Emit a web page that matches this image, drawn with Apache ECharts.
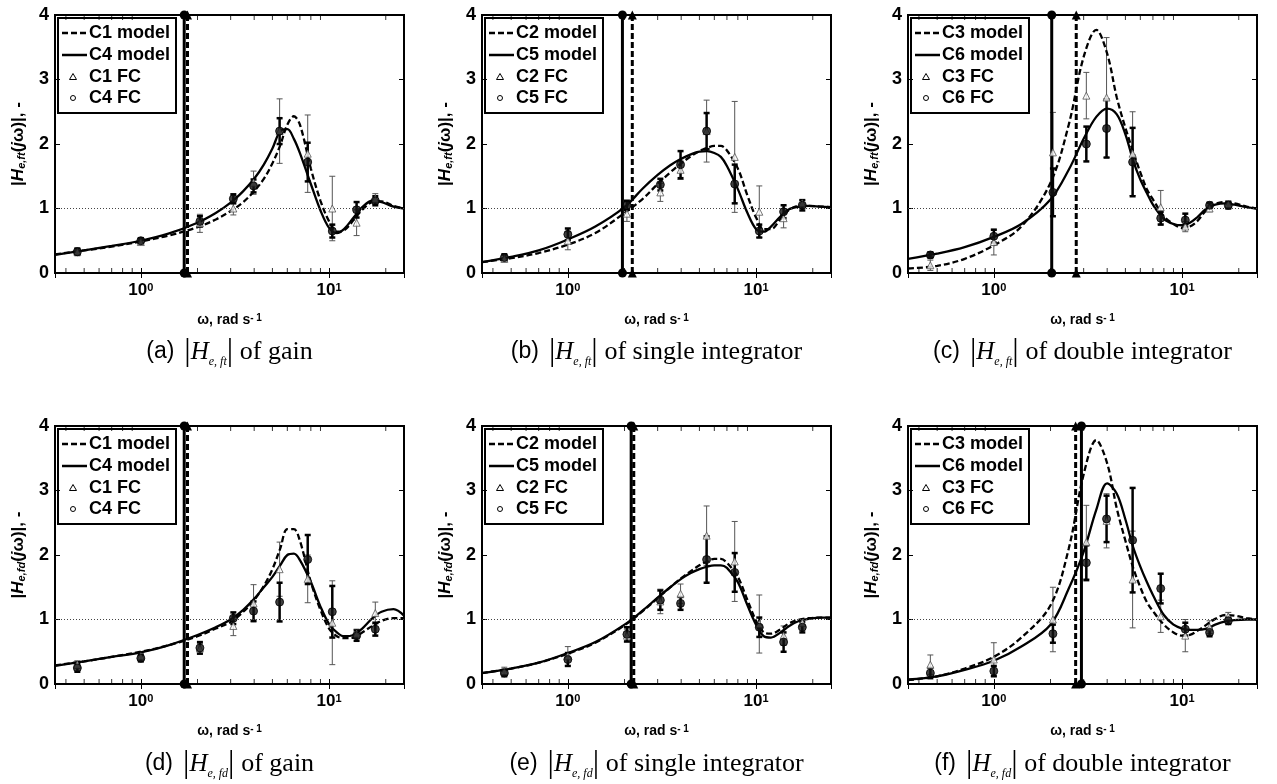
<!DOCTYPE html>
<html>
<head>
<meta charset="utf-8">
<script src="https://cdn.jsdelivr.net/npm/echarts@6/dist/echarts.min.js"></script>
<style>
  html, body { margin: 0; background: #fff; }
  #chart { width: 1277px; height: 784px; }
</style>
</head>
<body>
<div id="chart"></div>
<script>
// ===== data =====
const wModel = [0.35, 0.5, 0.7, 1.0, 1.4, 2.0, 2.5, 3.0, 3.5, 4.0, 4.5, 5.0, 5.5, 6.0, 6.5, 7.0, 8.0, 9.0, 10, 11, 12, 13.5, 15, 17, 19, 22, 25];
const wFC    = [0.46, 1.0, 2.06, 3.1, 3.97, 5.46, 7.7, 10.4, 14, 17.6];
const minorW = [0.4, 0.5, 0.6, 0.7, 0.8, 0.9, 2, 3, 4, 5, 6, 7, 8, 9, 20];
const yTicks = [0, 1, 2, 3, 4];

// (a) gain, ft
const modelA_C1 = [0.29,0.35,0.41,0.49,0.58,0.71,0.83,0.96,1.10,1.27,1.46,1.70,1.98,2.30,2.43,2.30,1.62,1.12,0.80,0.64,0.66,0.82,0.98,1.10,1.11,1.04,1.00];
const modelA_C4 = [0.28,0.35,0.42,0.50,0.61,0.78,0.93,1.09,1.27,1.46,1.68,1.93,2.20,2.23,2.08,1.86,1.38,0.97,0.70,0.62,0.68,0.86,1.02,1.12,1.10,1.03,1.00];
const fcA_C1 = [0.33,0.48,0.77,1.00,1.40,2.20,1.85,1.00,0.78,1.15];
const fcA_C1_err = [0.05,0.04,0.14,0.10,0.18,0.50,0.60,0.50,0.20,0.08];
const fcA_C4 = [0.33,0.50,0.80,1.15,1.35,2.20,1.72,0.65,0.98,1.12];
const fcA_C4_err = [0.05,0.04,0.08,0.07,0.10,0.20,0.30,0.10,0.12,0.07];
const crossA = [1.77, 1.70];   // dashed, solid

// (b) single integrator, ft
const modelB_C2 = [0.17,0.23,0.31,0.44,0.62,0.93,1.15,1.38,1.56,1.70,1.81,1.89,1.94,1.97,1.97,1.90,1.62,1.20,0.86,0.68,0.68,0.84,0.98,1.04,1.04,1.03,1.02];
const modelB_C5 = [0.17,0.25,0.35,0.52,0.72,1.02,1.31,1.52,1.67,1.77,1.84,1.88,1.89,1.86,1.80,1.66,1.30,0.93,0.68,0.64,0.72,0.88,0.99,1.03,1.04,1.03,1.02];
const fcB_C2 = [0.22,0.50,0.92,1.25,1.60,2.20,1.80,0.95,0.85,1.08];
const fcB_C2_err = [0.05,0.14,0.12,0.14,0.15,0.48,0.86,0.40,0.15,0.05];
const fcB_C5 = [0.24,0.60,1.05,1.37,1.68,2.20,1.38,0.65,0.95,1.05];
const fcB_C5_err = [0.05,0.09,0.07,0.09,0.21,0.28,0.30,0.10,0.10,0.08];
const crossB = [2.20, 1.95];

// (c) double integrator, ft
const modelC_C3 = [0.07,0.11,0.22,0.43,0.72,1.40,2.30,3.35,3.77,3.40,2.72,2.25,1.88,1.56,1.30,1.14,0.88,0.76,0.70,0.72,0.80,0.98,1.07,1.10,1.08,1.03,1.00];
const modelC_C6 = [0.22,0.30,0.40,0.56,0.76,1.14,1.60,2.08,2.42,2.55,2.46,2.15,1.74,1.45,1.24,1.06,0.84,0.76,0.74,0.78,0.86,1.00,1.06,1.08,1.06,1.02,1.00];
const fcC_C3 = [0.12,0.48,1.87,2.75,2.72,1.85,1.02,0.72,1.00,1.07];
const fcC_C3_err = [0.08,0.20,0.62,0.36,0.93,0.65,0.26,0.08,0.05,0.05];
const fcC_C6 = [0.28,0.57,1.25,2.00,2.24,1.72,0.85,0.82,1.05,1.05];
const fcC_C6_err = [0.04,0.10,0.37,0.27,0.45,0.53,0.10,0.10,0.04,0.05];
const crossC = [2.74, 2.03];

// (d) gain, fd
const modelD_C1 = [0.29,0.35,0.42,0.50,0.60,0.74,0.86,0.96,1.12,1.30,1.52,1.78,2.10,2.40,2.40,2.22,1.58,1.15,0.86,0.74,0.71,0.72,0.80,0.90,0.98,1.02,1.02];
const modelD_C4 = [0.28,0.35,0.42,0.49,0.60,0.76,0.88,1.00,1.15,1.32,1.50,1.66,1.84,2.00,2.02,1.92,1.58,1.20,0.93,0.80,0.74,0.76,0.86,1.02,1.12,1.16,1.06];
const fcD_C1 = [0.30,0.43,0.55,0.90,1.25,1.78,1.63,0.95,0.78,1.10];
const fcD_C1_err = [0.06,0.04,0.08,0.15,0.29,0.42,0.37,0.65,0.07,0.17];
const fcD_C4 = [0.25,0.40,0.56,1.02,1.13,1.27,1.93,1.12,0.75,0.85];
const fcD_C4_err = [0.06,0.05,0.09,0.09,0.15,0.30,0.38,0.40,0.08,0.10];
const crossD = [1.77, 1.70];

// (e) single integrator, fd
const modelE_C2 = [0.17,0.24,0.33,0.47,0.64,0.91,1.13,1.33,1.50,1.64,1.75,1.84,1.90,1.94,1.94,1.88,1.66,1.30,0.98,0.80,0.78,0.85,0.94,1.00,1.02,1.03,1.03];
const modelE_C5 = [0.17,0.24,0.33,0.48,0.65,0.92,1.14,1.34,1.50,1.63,1.72,1.78,1.82,1.84,1.84,1.80,1.58,1.22,0.92,0.74,0.72,0.80,0.90,0.98,1.01,1.03,1.03];
const fcE_C2 = [0.20,0.43,0.75,1.28,1.40,2.30,1.90,0.93,0.75,0.95];
const fcE_C2_err = [0.06,0.15,0.10,0.19,0.15,0.46,0.62,0.45,0.15,0.05];
const fcE_C5 = [0.17,0.38,0.77,1.30,1.25,1.93,1.73,0.88,0.65,0.88];
const fcE_C5_err = [0.05,0.10,0.11,0.15,0.10,0.36,0.30,0.15,0.15,0.08];
const crossE = [2.24, 2.17];

// (f) double integrator, fd
const modelF_C3 = [0.06,0.12,0.24,0.42,0.72,1.22,2.10,3.25,3.78,3.42,2.72,2.22,1.80,1.50,1.27,1.13,0.92,0.80,0.75,0.76,0.82,0.92,1.01,1.07,1.06,1.02,1.00];
const modelF_C6 = [0.07,0.12,0.22,0.36,0.58,0.92,1.48,2.05,2.70,3.11,2.95,2.55,2.12,1.82,1.58,1.38,1.07,0.92,0.86,0.84,0.84,0.86,0.92,0.97,0.99,1.00,1.00];
const fcF_C3 = [0.30,0.38,1.00,2.20,2.53,1.62,1.05,0.75,0.88,1.05];
const fcF_C3_err = [0.15,0.26,0.50,0.57,0.42,0.75,0.25,0.25,0.10,0.06];
const fcF_C6 = [0.17,0.20,0.78,1.88,2.56,2.23,1.48,0.85,0.80,0.98];
const fcF_C6_err = [0.08,0.08,0.14,0.27,0.36,0.81,0.23,0.10,0.06,0.05];
const crossF = [2.72, 2.92];

const panels = [
  {dash: modelA_C1, solid: modelA_C4, tri: fcA_C1, triErr: fcA_C1_err, circ: fcA_C4, circErr: fcA_C4_err, cross: crossA, names: ['C1','C4'], sub: 'ft', tag: '(a)', kind: 'of gain'},
  {dash: modelB_C2, solid: modelB_C5, tri: fcB_C2, triErr: fcB_C2_err, circ: fcB_C5, circErr: fcB_C5_err, cross: crossB, names: ['C2','C5'], sub: 'ft', tag: '(b)', kind: 'of single integrator'},
  {dash: modelC_C3, solid: modelC_C6, tri: fcC_C3, triErr: fcC_C3_err, circ: fcC_C6, circErr: fcC_C6_err, cross: crossC, names: ['C3','C6'], sub: 'ft', tag: '(c)', kind: 'of double integrator'},
  {dash: modelD_C1, solid: modelD_C4, tri: fcD_C1, triErr: fcD_C1_err, circ: fcD_C4, circErr: fcD_C4_err, cross: crossD, names: ['C1','C4'], sub: 'fd', tag: '(d)', kind: 'of gain'},
  {dash: modelE_C2, solid: modelE_C5, tri: fcE_C2, triErr: fcE_C2_err, circ: fcE_C5, circErr: fcE_C5_err, cross: crossE, names: ['C2','C5'], sub: 'fd', tag: '(e)', kind: 'of single integrator'},
  {dash: modelF_C3, solid: modelF_C6, tri: fcF_C3, triErr: fcF_C3_err, circ: fcF_C6, circErr: fcF_C6_err, cross: crossF, names: ['C3','C6'], sub: 'fd', tag: '(f)', kind: 'of double integrator'}
];

// ===== layout =====
const colLeft = [55, 482, 908];
const rowTop  = [15, 426];
const capY    = [352, 764];
const GW = 349, GH = 258;
const XMIN = 0.35, XMAX = 25;
const SANS = 'Liberation Sans, Arial, sans-serif';
const SERIF = 'Liberation Serif, Times New Roman, serif';

const chart = echarts.init(document.getElementById('chart'), null, { renderer: 'canvas' });

function errRender(capW, lw, color){
  return function(params, api){
    const x = api.value(0);
    const lo = api.coord([x, api.value(1)]);
    const hi = api.coord([x, api.value(2)]);
    const h = capW / 2;
    const st = { stroke: color, lineWidth: lw };
    return { type: 'group', children: [
      { type: 'line', shape: { x1: lo[0], y1: lo[1], x2: hi[0], y2: hi[1] }, style: st },
      { type: 'line', shape: { x1: lo[0]-h, y1: lo[1], x2: lo[0]+h, y2: lo[1] }, style: st },
      { type: 'line', shape: { x1: hi[0]-h, y1: hi[1], x2: hi[0]+h, y2: hi[1] }, style: st }
    ]};
  };
}

function expLabel(v){
  const e = Math.log10(v);
  if (Math.abs(e - Math.round(e)) > 1e-6) return '';
  return '{b|10}{s|' + Math.round(e) + '}';
}

const grids = [], xAxes = [], yAxes = [], series = [], graphics = [];

panels.forEach((p, i) => {
  const row = Math.floor(i / 3);
  const gx = colLeft[i % 3], gy = rowTop[row];
  grids.push({ left: gx, top: gy, width: GW, height: GH, show: true, borderColor: '#000', borderWidth: 2, backgroundColor: 'transparent' });

  xAxes.push({
    type: 'log', gridIndex: i, min: XMIN, max: XMAX, position: 'bottom',
    axisLine: { show: false }, splitLine: { show: false },
    axisTick: { inside: true, length: 5, lineStyle: { color: '#000', width: 1 } },
    axisLabel: { formatter: expLabel, showMinLabel: false, showMaxLabel: false, margin: 9,
      rich: { b: { fontSize: 17, fontWeight: 'bold', fontFamily: SANS, color: '#000' },
              s: { fontSize: 11, fontWeight: 'bold', fontFamily: SANS, color: '#000', verticalAlign: 'top' } } },
    name: '{n|ω, rad s}{p|- 1}', nameLocation: 'middle', nameGap: 40,
    nameTextStyle: { rich: { n: { fontSize: 14, fontWeight: 'bold', fontFamily: SANS, color: '#000' },
                             p: { fontSize: 10, fontWeight: 'bold', fontFamily: SANS, color: '#000', verticalAlign: 'top' } } }
  });
  xAxes.push({
    type: 'log', gridIndex: i, min: XMIN, max: XMAX, position: 'top',
    axisLine: { show: false }, splitLine: { show: false }, axisLabel: { show: false },
    axisTick: { inside: true, length: 5, lineStyle: { color: '#000', width: 1 } }
  });
  yAxes.push({
    type: 'value', gridIndex: i, min: yTicks[0], max: yTicks[yTicks.length - 1], interval: 1, position: 'left',
    axisLine: { show: false }, splitLine: { show: false },
    axisTick: { inside: true, length: 5, lineStyle: { color: '#000', width: 1 } },
    axisLabel: { margin: 6, fontSize: 18, fontWeight: 'bold', fontFamily: SANS, color: '#000' },
    name: '{n||}{i|H}{s|e,' + p.sub + '}{n|(}{i|j}{n|ω)|, -}', nameLocation: 'middle', nameGap: 28, nameRotate: 90,
    nameTextStyle: { rich: {
      n: { fontSize: 17, fontWeight: 'bold', fontFamily: SANS, color: '#000' },
      i: { fontSize: 17, fontWeight: 'bold', fontStyle: 'italic', fontFamily: SANS, color: '#000' },
      s: { fontSize: 11, fontWeight: 'bold', fontStyle: 'italic', fontFamily: SANS, color: '#000', verticalAlign: 'bottom' } } }
  });
  yAxes.push({
    type: 'value', gridIndex: i, min: yTicks[0], max: yTicks[yTicks.length - 1], interval: 1, position: 'right',
    axisLine: { show: false }, splitLine: { show: false }, axisLabel: { show: false },
    axisTick: { inside: true, length: 5, lineStyle: { color: '#000', width: 1 } }
  });

  const xi = 2 * i, yi = 2 * i;
  const base = { xAxisIndex: xi, yAxisIndex: yi, silent: true, animation: false };

  // minor log ticks (bottom + top)
  series.push(Object.assign({}, base, { type: 'scatter', clip: false, symbol: 'rect', symbolSize: [1, 5], symbolOffset: [0, -2.5],
    itemStyle: { color: '#000' }, data: minorW.map(w => [w, yTicks[0]]), z: 1 }));
  series.push(Object.assign({}, base, { type: 'scatter', clip: false, symbol: 'rect', symbolSize: [1, 5], symbolOffset: [0, 2.5],
    itemStyle: { color: '#000' }, data: minorW.map(w => [w, yTicks[yTicks.length - 1]]), z: 1 }));

  // thin error bars (triangles) and thick error bars (circles)
  series.push(Object.assign({}, base, { type: 'custom', renderItem: errRender(6, 1, '#555'), encode: { x: 0, y: [1, 2] },
    data: wFC.map((w, k) => [w, p.tri[k] - p.triErr[k], p.tri[k] + p.triErr[k]]), z: 2 }));
  series.push(Object.assign({}, base, { type: 'custom', renderItem: errRender(6, 2.5, '#000'), encode: { x: 0, y: [1, 2] },
    data: wFC.map((w, k) => [w, p.circ[k] - p.circErr[k], p.circ[k] + p.circErr[k]]), z: 3 }));

  // model curves
  series.push(Object.assign({}, base, { type: 'line', name: p.names[0] + ' model', symbol: 'none', smooth: 0.35,
    lineStyle: { color: '#000', width: 2.3, type: [6, 3] }, data: wModel.map((w, k) => [w, p.dash[k]]), z: 4 }));
  series.push(Object.assign({}, base, { type: 'line', name: p.names[1] + ' model', symbol: 'none', smooth: 0.35,
    lineStyle: { color: '#000', width: 2.3 }, data: wModel.map((w, k) => [w, p.solid[k]]), z: 4,
    markLine: { silent: true, symbol: 'none', label: { show: false },
      lineStyle: { color: '#444', width: 1, type: [1, 2] }, data: [{ yAxis: 1 }] } }));

  // vertical marker lines
  series.push(Object.assign({}, base, { type: 'line', clip: false, symbol: 'triangle', symbolSize: 9,
    itemStyle: { color: '#000' }, lineStyle: { color: '#000', width: 3, type: [6, 3] },
    data: [[p.cross[0], yTicks[0]], [p.cross[0], yTicks[yTicks.length - 1]]], z: 5 }));
  series.push(Object.assign({}, base, { type: 'line', clip: false, symbol: 'circle', symbolSize: 9,
    itemStyle: { color: '#000' }, lineStyle: { color: '#000', width: 3 },
    data: [[p.cross[1], yTicks[0]], [p.cross[1], yTicks[yTicks.length - 1]]], z: 5 }));

  // FC points
  series.push(Object.assign({}, base, { type: 'scatter', symbol: 'triangle', symbolSize: 7,
    itemStyle: { color: '#fff', borderColor: '#555', borderWidth: 1 },
    data: wFC.map((w, k) => [w, p.tri[k]]), z: 6 }));
  series.push(Object.assign({}, base, { type: 'scatter', symbol: 'circle', symbolSize: 8,
    itemStyle: { color: '#111', borderColor: '#000', borderWidth: 1 },
    data: wFC.map((w, k) => [w, p.circ[k]]), z: 6 }));

  // legend box (drawn by hand to match the MATLAB look)
  const bx = gx + 3, by = gy + 3;
  const ry = [18, 40, 62, 83].map(d => gy + d);
  const mx = bx + 15, tx = bx + 31;
  const txt = (s, y) => ({ type: 'text', x: tx, y: y, style: { text: s, fill: '#000', fontSize: 18, fontWeight: 'bold', fontFamily: SANS, align: 'left', verticalAlign: 'middle' } });
  graphics.push({ type: 'group', z: 20, children: [
    { type: 'rect', shape: { x: bx, y: by, width: 118, height: 95 }, style: { fill: '#fff', stroke: '#000', lineWidth: 2 } },
    { type: 'line', shape: { x1: bx + 4, y1: ry[0], x2: bx + 29, y2: ry[0] }, style: { stroke: '#000', lineWidth: 2.5, lineDash: [6, 3] } },
    { type: 'line', shape: { x1: bx + 4, y1: ry[1], x2: bx + 29, y2: ry[1] }, style: { stroke: '#000', lineWidth: 2.5 } },
    { type: 'polygon', shape: { points: [[mx, ry[2] - 3.5], [mx + 3.5, ry[2] + 2.5], [mx - 3.5, ry[2] + 2.5]] }, style: { fill: '#fff', stroke: '#000', lineWidth: 1 } },
    { type: 'circle', shape: { cx: mx, cy: ry[3], r: 2.5 }, style: { fill: '#fff', stroke: '#000', lineWidth: 1 } },
    txt(p.names[0] + ' model', ry[0]),
    txt(p.names[1] + ' model', ry[1]),
    txt(p.names[0] + ' FC', ry[2]),
    txt(p.names[1] + ' FC', ry[3])
  ]});

  // caption
  graphics.push({ type: 'text', x: gx + GW / 2, y: capY[row], z: 20, style: {
    text: '{l|' + p.tag + '}   {v||}{h|H}{u|e, ' + p.sub + '}{v||}  {t|' + p.kind + '}',
    align: 'center', verticalAlign: 'middle', fill: '#000',
    rich: {
      l: { fontSize: 23, fontFamily: SANS, fill: '#000' },
      v: { fontSize: 32, fontFamily: SERIF, fill: '#000' },
      h: { fontSize: 25, fontFamily: SERIF, fontStyle: 'italic', fill: '#000' },
      u: { fontSize: 12, fontFamily: SERIF, fontStyle: 'italic', fill: '#000', verticalAlign: 'bottom' },
      t: { fontSize: 26, fontFamily: SERIF, fill: '#000' }
    } } });
});

chart.setOption({
  animation: false,
  backgroundColor: '#fff',
  grid: grids,
  xAxis: xAxes,
  yAxis: yAxes,
  series: series,
  graphic: { elements: graphics }
});
</script>
</body>
</html>
